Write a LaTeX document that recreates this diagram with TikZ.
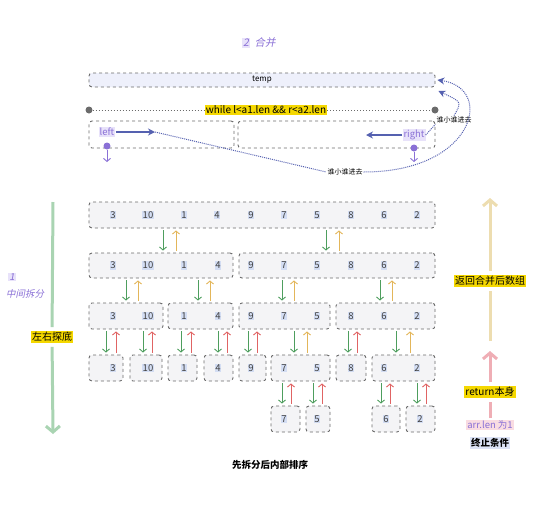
\documentclass[tikz,border=0pt]{standalone}
\usepackage{fontspec}
\setmainfont{Noto Sans CJK SC}[AutoFakeSlant=0.2]
\usetikzlibrary{arrows.meta,positioning}
\definecolor{boxgray}{HTML}{6B6B6B}
\definecolor{boxfill}{HTML}{F4F4F6}
\definecolor{tempfill}{HTML}{EEF0FB}
\definecolor{numbg}{HTML}{D3DDF3}
\definecolor{dngreen}{HTML}{4E9E5E}
\definecolor{upred}{HTML}{E06464}
\definecolor{upyellow}{HTML}{E3B65A}
\definecolor{hlyellow}{HTML}{F5D800}
\definecolor{ptrblue}{HTML}{5561B0}
\definecolor{ptrpurple}{HTML}{8A70D6}
\definecolor{ptrbg}{HTML}{E8E2FA}
\definecolor{biggreen}{HTML}{A9D4B2}
\definecolor{bigtan}{HTML}{EDDDB0}
\definecolor{bigpink}{HTML}{EFAEB5}
\definecolor{pinkbg}{HTML}{F9DCE2}
\definecolor{bluebg}{HTML}{DCE3F6}
\begin{document}
\begin{tikzpicture}
[x=1pt,y=-1pt,
box/.style={draw=boxgray,fill=boxfill,dashed,line width=0.9pt,rounded corners=3pt,inner sep=0pt},
num/.style={fill=numbg,inner sep=0.8pt,text=black!75,font=\fontsize{9.5}{10}\selectfont},
dn/.style={dngreen,line width=0.9pt,shorten <=2pt,shorten >=2pt,-{Straight Barb[length=3pt,width=7pt]}},
upr/.style={upred,line width=0.9pt,shorten <=2pt,shorten >=2pt,-{Straight Barb[length=3pt,width=7pt]}},
upy/.style={upyellow,line width=0.9pt,shorten <=2pt,shorten >=2pt,-{Straight Barb[length=3pt,width=7pt]}},
hl/.style={fill=hlyellow,inner sep=1pt,text=black,font=\fontsize{10}{11}\selectfont},
ptr/.style={fill=ptrbg,inner sep=1pt,text=ptrpurple,font=\fontsize{9.5}{10}\selectfont},
pdot/.style={circle,fill=ptrpurple,inner sep=0pt,minimum size=7pt},
gdot/.style={circle,fill=boxgray,inner sep=0pt,minimum size=7pt},
pdown/.style={ptrpurple,line width=0.9pt,-{Straight Barb[length=3pt,width=7pt]}},
ptrarrow/.style={ptrblue,line width=1.2pt,-{Stealth[length=7pt,width=7pt]}},
dotline/.style={ptrblue,line width=1pt,densely dotted},
small/.style={inner sep=1pt,fill=white,font=\fontsize{7}{8}\selectfont},
bigg/.style={biggreen,line width=3pt},
bigy/.style={bigtan,line width=3pt},
bigp/.style={bigpink,line width=3pt},
purple/.style={text=ptrpurple,font=\fontsize{9.5}{10}\selectfont\itshape}]
\useasboundingbox (0,0) rectangle (541,509);

% merge
\node[ptr,font=\fontsize{10.5}{11}\selectfont\itshape] (t2n) at (246,43) {2};
\node[purple,font=\fontsize{10.5}{11}\selectfont\itshape,right=1pt of t2n] (t2) {合并};

\node[box,fill=tempfill,minimum width=346pt,minimum height=14pt,font=\fontsize{8}{9}\selectfont] (temp) at (262,80) {temp};

\node[gdot] (wl) at (89,110) {};
\node[gdot] (wr) at (435,110) {};
\node[hl] (while) at (266,110) {while l<a1.len \&\& r<a2.len};
\draw[boxgray,line width=1pt,dotted] (wl) -- (while);
\draw[boxgray,line width=1pt,dotted] (while) -- (wr);

\node[box,fill=none,minimum width=145pt,minimum height=27pt] (L) at (161.5,134.5) {};
\node[box,fill=none,minimum width=197pt,minimum height=27pt] (R) at (336.5,134.5) {};

\node[ptr] (left) at (107,132) {left};
\coordinate (lt) at (155,132);
\draw[ptrarrow] (left) -- (lt);
\node[pdot] (ld) at (107,146) {};
\coordinate (ldn) at (107,162);
\draw[pdown] (ld) -- (ldn);

\node[ptr] (right) at (414,135) {right};
\coordinate (rt) at (366,135);
\draw[ptrarrow] (right) -- (rt);
\node[pdot] (rd) at (414,148) {};
\coordinate (rdn) at (414,162);
\draw[pdown] (rd) -- (rdn);

\node[small] (who) at (345,172) {谁小谁进去};
\node[small] (who2) at (454,120) {谁小谁进去};
\draw[dotline] (lt) -- (who.west);
\draw[dotline,-{Stealth[length=7pt,width=7pt]}] (who.east) .. controls (475,172) and (495,88) .. ([xshift=2pt]temp.east);
\draw[dotline] (right.east) -- (who2.south west);
\draw[dotline,-{Stealth[length=7pt,width=7pt]}] (who2.north) .. controls (462,102) .. ([xshift=3pt,yshift=-11pt]temp.east);

% split
\node[box,minimum width=346pt,minimum height=26pt] (A) at (262,215) {};
\node[num] (a1) at (113,215) {3};
\node[num] (a2) at (148,215) {10};
\node[num] (a3) at (184,215) {1};
\node[num] (a4) at (217,215) {4};
\node[num] (a5) at (251,215) {9};
\node[num] (a6) at (284,215) {7};
\node[num] (a7) at (317,215) {5};
\node[num] (a8) at (351,215) {8};
\node[num] (a9) at (384,215) {6};
\node[num] (a10) at (417,215) {2};

\node[box,minimum width=144pt,minimum height=25pt] (B1) at (161,265.5) {};
\node[box,minimum width=196pt,minimum height=25pt] (B2) at (337,265.5) {};
\node[num] (b1) at (113,265.5) {3};
\node[num] (b2) at (148,265.5) {10};
\node[num] (b3) at (184,265.5) {1};
\node[num] (b4) at (218,265.5) {4};
\node[num] (b5) at (251,265.5) {9};
\node[num] (b6) at (284,265.5) {7};
\node[num] (b7) at (317,265.5) {5};
\node[num] (b8) at (351,265.5) {8};
\node[num] (b9) at (384,265.5) {6};
\node[num] (b10) at (417,265.5) {2};

\node[box,minimum width=74pt,minimum height=26pt] (C1) at (126,316) {};
\node[box,minimum width=65pt,minimum height=26pt] (C2) at (200.5,316) {};
\node[box,minimum width=91pt,minimum height=26pt] (C3) at (284.5,316) {};
\node[box,minimum width=99pt,minimum height=26pt] (C4) at (385.5,316) {};
\node[num] (c1) at (113,316) {3};
\node[num] (c2) at (148,316) {10};
\node[num] (c3) at (184,316) {1};
\node[num] (c4) at (218,316) {4};
\node[num] (c5) at (251,316) {9};
\node[num] (c6) at (284,316) {7};
\node[num] (c7) at (317,316) {5};
\node[num] (c8) at (351,316) {8};
\node[num] (c9) at (384,316) {6};
\node[num] (c10) at (417,316) {2};

\node[box,minimum width=34pt,minimum height=26pt] (D1) at (106,368) {};
\node[box,minimum width=32pt,minimum height=26pt] (D2) at (146,368) {};
\node[box,minimum width=29pt,minimum height=26pt] (D3) at (182.5,368) {};
\node[box,minimum width=29pt,minimum height=26pt] (D4) at (218.5,368) {};
\node[box,minimum width=27pt,minimum height=26pt] (D5) at (252.5,368) {};
\node[box,minimum width=59pt,minimum height=26pt] (D6) at (300.5,368) {};
\node[box,minimum width=30pt,minimum height=26pt] (D7) at (351,368) {};
\node[box,minimum width=63pt,minimum height=26pt] (D8) at (403.5,368) {};
\node[num] (d1) at (113,368) {3};
\node[num] (d2) at (148,368) {10};
\node[num] (d3) at (184,368) {1};
\node[num] (d4) at (218,368) {4};
\node[num] (d5) at (251,368) {9};
\node[num] (d6) at (284,368) {7};
\node[num] (d7) at (317,368) {5};
\node[num] (d8) at (351,368) {8};
\node[num] (d9) at (384,368) {6};
\node[num] (d10) at (417,368) {2};

\node[box,minimum width=29pt,minimum height=26pt] (E1) at (285.5,419) {};
\node[box,minimum width=24pt,minimum height=26pt] (E2) at (318,419) {};
\node[box,minimum width=28pt,minimum height=26pt] (E3) at (386,419) {};
\node[box,minimum width=29pt,minimum height=26pt] (E4) at (420.5,419) {};
\node[num] (e1) at (284,419) {7};
\node[num] (e2) at (317,419) {5};
\node[num] (e3) at (386,419) {6};
\node[num] (e4) at (420,419) {2};

\draw[dn] ([xshift=2pt]B1.north |- A.south) -- ([xshift=2pt]B1.north);
\draw[upy] ([xshift=15pt]B1.north) -- ([xshift=15pt]B1.north |- A.south);
\draw[dn] ([xshift=-11pt]B2.north |- A.south) -- ([xshift=-11pt]B2.north);
\draw[upy] ([xshift=2pt]B2.north) -- ([xshift=2pt]B2.north |- A.south);

\draw[dn] ([xshift=0pt]C1.north |- B1.south) -- ([xshift=0pt]C1.north);
\draw[upy] ([xshift=12pt]C1.north) -- ([xshift=12pt]C1.north |- B1.south);
\draw[dn] ([xshift=-2.5pt]C2.north |- B1.south) -- ([xshift=-2.5pt]C2.north);
\draw[upy] ([xshift=9.5pt]C2.north) -- ([xshift=9.5pt]C2.north |- B1.south);
\draw[dn] ([xshift=-2.5pt]C3.north |- B2.south) -- ([xshift=-2.5pt]C3.north);
\draw[upy] ([xshift=9.5pt]C3.north) -- ([xshift=9.5pt]C3.north |- B2.south);
\draw[dn] ([xshift=-5.5pt]C4.north |- B2.south) -- ([xshift=-5.5pt]C4.north);
\draw[upy] ([xshift=6.5pt]C4.north) -- ([xshift=6.5pt]C4.north |- B2.south);

\draw[dn] ([xshift=0pt]D1.north |- C1.south) -- ([xshift=0pt]D1.north);
\draw[upr] ([xshift=10pt]D1.north) -- ([xshift=10pt]D1.north |- C1.south);
\draw[dn] ([xshift=-3pt]D2.north |- C1.south) -- ([xshift=-3pt]D2.north);
\draw[upr] ([xshift=6pt]D2.north) -- ([xshift=6pt]D2.north |- C1.south);
\draw[dn] ([xshift=-1.5pt]D3.north |- C2.south) -- ([xshift=-1.5pt]D3.north);
\draw[upr] ([xshift=8.5pt]D3.north) -- ([xshift=8.5pt]D3.north |- C2.south);
\draw[dn] ([xshift=-0.5pt]D4.north |- C2.south) -- ([xshift=-0.5pt]D4.north);
\draw[upr] ([xshift=8.5pt]D4.north) -- ([xshift=8.5pt]D4.north |- C2.south);
\draw[dn] ([xshift=-4.5pt]D5.north |- C3.south) -- ([xshift=-4.5pt]D5.north);
\draw[upr] ([xshift=4.5pt]D5.north) -- ([xshift=4.5pt]D5.north |- C3.south);
\draw[dn] ([xshift=-6.5pt]D6.north |- C3.south) -- ([xshift=-6.5pt]D6.north);
\draw[upy] ([xshift=6.5pt]D6.north) -- ([xshift=6.5pt]D6.north |- C3.south);
\draw[dn] ([xshift=-3pt]D7.north |- C4.south) -- ([xshift=-3pt]D7.north);
\draw[upr] ([xshift=6pt]D7.north) -- ([xshift=6pt]D7.north |- C4.south);
\draw[dn] ([xshift=-7.5pt]D8.north |- C4.south) -- ([xshift=-7.5pt]D8.north);
\draw[upy] ([xshift=6.5pt]D8.north) -- ([xshift=6.5pt]D8.north |- C4.south);

\draw[dn] ([xshift=-3.5pt]E1.north |- D6.south) -- ([xshift=-3.5pt]E1.north);
\draw[upr] ([xshift=5.5pt]E1.north) -- ([xshift=5.5pt]E1.north |- D6.south);
\draw[dn] ([xshift=-5pt]E2.north |- D6.south) -- ([xshift=-5pt]E2.north);
\draw[upr] ([xshift=4pt]E2.north) -- ([xshift=4pt]E2.north |- D6.south);
\draw[dn] ([xshift=-5pt]E3.north |- D8.south) -- ([xshift=-5pt]E3.north);
\draw[upr] ([xshift=4pt]E3.north) -- ([xshift=4pt]E3.north |- D8.south);
\draw[dn] ([xshift=-3.5pt]E4.north |- D8.south) -- ([xshift=-3.5pt]E4.north);
\draw[upr] ([xshift=5.5pt]E4.north) -- ([xshift=5.5pt]E4.north |- D8.south);

% left side
\node[ptr,font=\fontsize{9.5}{10}\selectfont\itshape] (s1n) at (12,277) {1};
\node[purple] (s1) at (25,294) {中间拆分};
\coordinate (gtop) at (53,202);
\node[hl] (probe) at (52,337) {左右探底};
\coordinate (gbot) at (53,434);
\draw[bigg,shorten >=4pt] (gtop) -- (probe);
\draw[bigg,shorten <=4pt,-{Straight Barb[length=6pt,width=14pt]}] (probe) -- (gbot);

% right side
\coordinate (ytop) at (490,198);
\node[hl] (ret) at (490,281) {返回合并后数组};
\coordinate (ybot) at (490,341);
\draw[bigy,shorten <=4pt,-{Straight Barb[length=6pt,width=14pt]}] (ret) -- (ytop);
\draw[bigy,shorten >=4pt] (ybot) -- (ret);
\coordinate (ptop) at (490,351);
\node[hl] (self) at (490,392) {return本身};
\node[fill=pinkbg,inner sep=1pt,text=ptrpurple,font=\fontsize{9.5}{10}\selectfont] (len1) at (490,425) {arr.len 为1};
\node[fill=bluebg,inner sep=1pt,font=\fontsize{9.5}{10}\selectfont\bfseries] (stop) at (490,443) {终止条件};
\draw[bigp,shorten <=4pt,-{Straight Barb[length=6pt,width=14pt]}] (self) -- (ptop);
\draw[bigp,shorten <=1pt,shorten >=4pt] (len1) -- (self);

\node[font=\fontsize{9.5}{10}\selectfont\bfseries] (sort) at (270,465) {先拆分后内部排序};
\end{tikzpicture}
\end{document}
